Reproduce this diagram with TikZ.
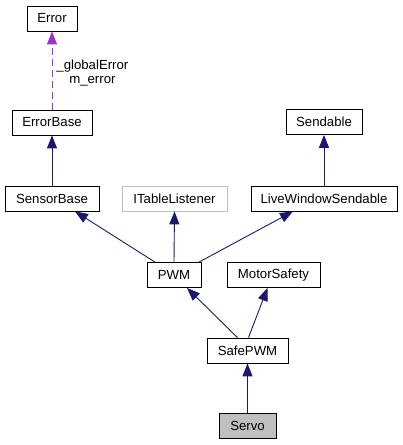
\documentclass[tikz,border=0pt]{standalone}
\usepackage{fontspec}
\setmainfont{Liberation Sans}
\usetikzlibrary{arrows.meta}
\definecolor{edgeblue}{HTML}{191970}
\definecolor{orchid}{HTML}{9A32CD}
\definecolor{greyline}{HTML}{BFBFBF}
\tikzset{
  lblfont/.style={font=\fontsize{13.2}{14.5}\selectfont},
  box/.style={draw=black, line width=0.8pt, fill=white, minimum height=25pt, inner sep=0pt, lblfont},
  greybox/.style={box, draw=greyline},
  hlbox/.style={box, fill=greyline},
  inherit/.style={draw=edgeblue, line width=0.9pt, -{Triangle[length=13pt,width=10pt]}},
  usage/.style={draw=orchid, line width=0.9pt, dash pattern=on 7pt off 4pt, -{Triangle[length=13pt,width=10pt]}},
}
\begin{document}
\begin{tikzpicture}[x=1pt,y=-1pt]
\useasboundingbox (0,0) rectangle (403,445);
\node[box, minimum width=50pt] (error) at (52,18.5) {Error};
\node[box, minimum width=80pt] (errorbase) at (52,122.5) {ErrorBase};
\node[box, minimum width=76pt] (sendable) at (324,122) {Sendable};
\node[box, minimum width=94pt] (sensorbase) at (52,198.5) {SensorBase};
\node[greybox, minimum width=105pt] (itable) at (174.5,198.5) {ITableListener};
\node[box, minimum width=146pt] (lws) at (324,198.5) {LiveWindowSendable};
\node[box, minimum width=54pt] (pwm) at (174,275) {PWM};
\node[box, minimum width=93pt] (motor) at (273.5,275) {MotorSafety};
\node[box, minimum width=81pt] (safepwm) at (247.5,350.5) {SafePWM};
\node[hlbox, minimum width=57pt] (servo) at (247.5,425.5) {Servo};

\draw[usage] (errorbase.north) -- (error.south)
  node[pos=0.47, right=4pt, align=center, inner sep=0pt, lblfont, text=black] (lbl) {\_globalError\\m\_error};
\draw[inherit] (sensorbase.north) -- (errorbase.south);
\draw[inherit] (lws.north) -- (sendable.south);
\draw[inherit] ([xshift=-19pt]pwm.north) -- ([xshift=23pt]sensorbase.south);
\draw[inherit] (pwm.north) -- (itable.south);
\draw[inherit] ([xshift=25pt]pwm.north) -- ([xshift=-31pt]lws.south);
\draw[inherit] ([xshift=-10pt]safepwm.north) -- ([xshift=13pt]pwm.south);
\draw[inherit] ([xshift=1pt]safepwm.north) -- ([xshift=-6pt]motor.south);
\draw[inherit] (servo.north) -- (safepwm.south);
\end{tikzpicture}
\end{document}
